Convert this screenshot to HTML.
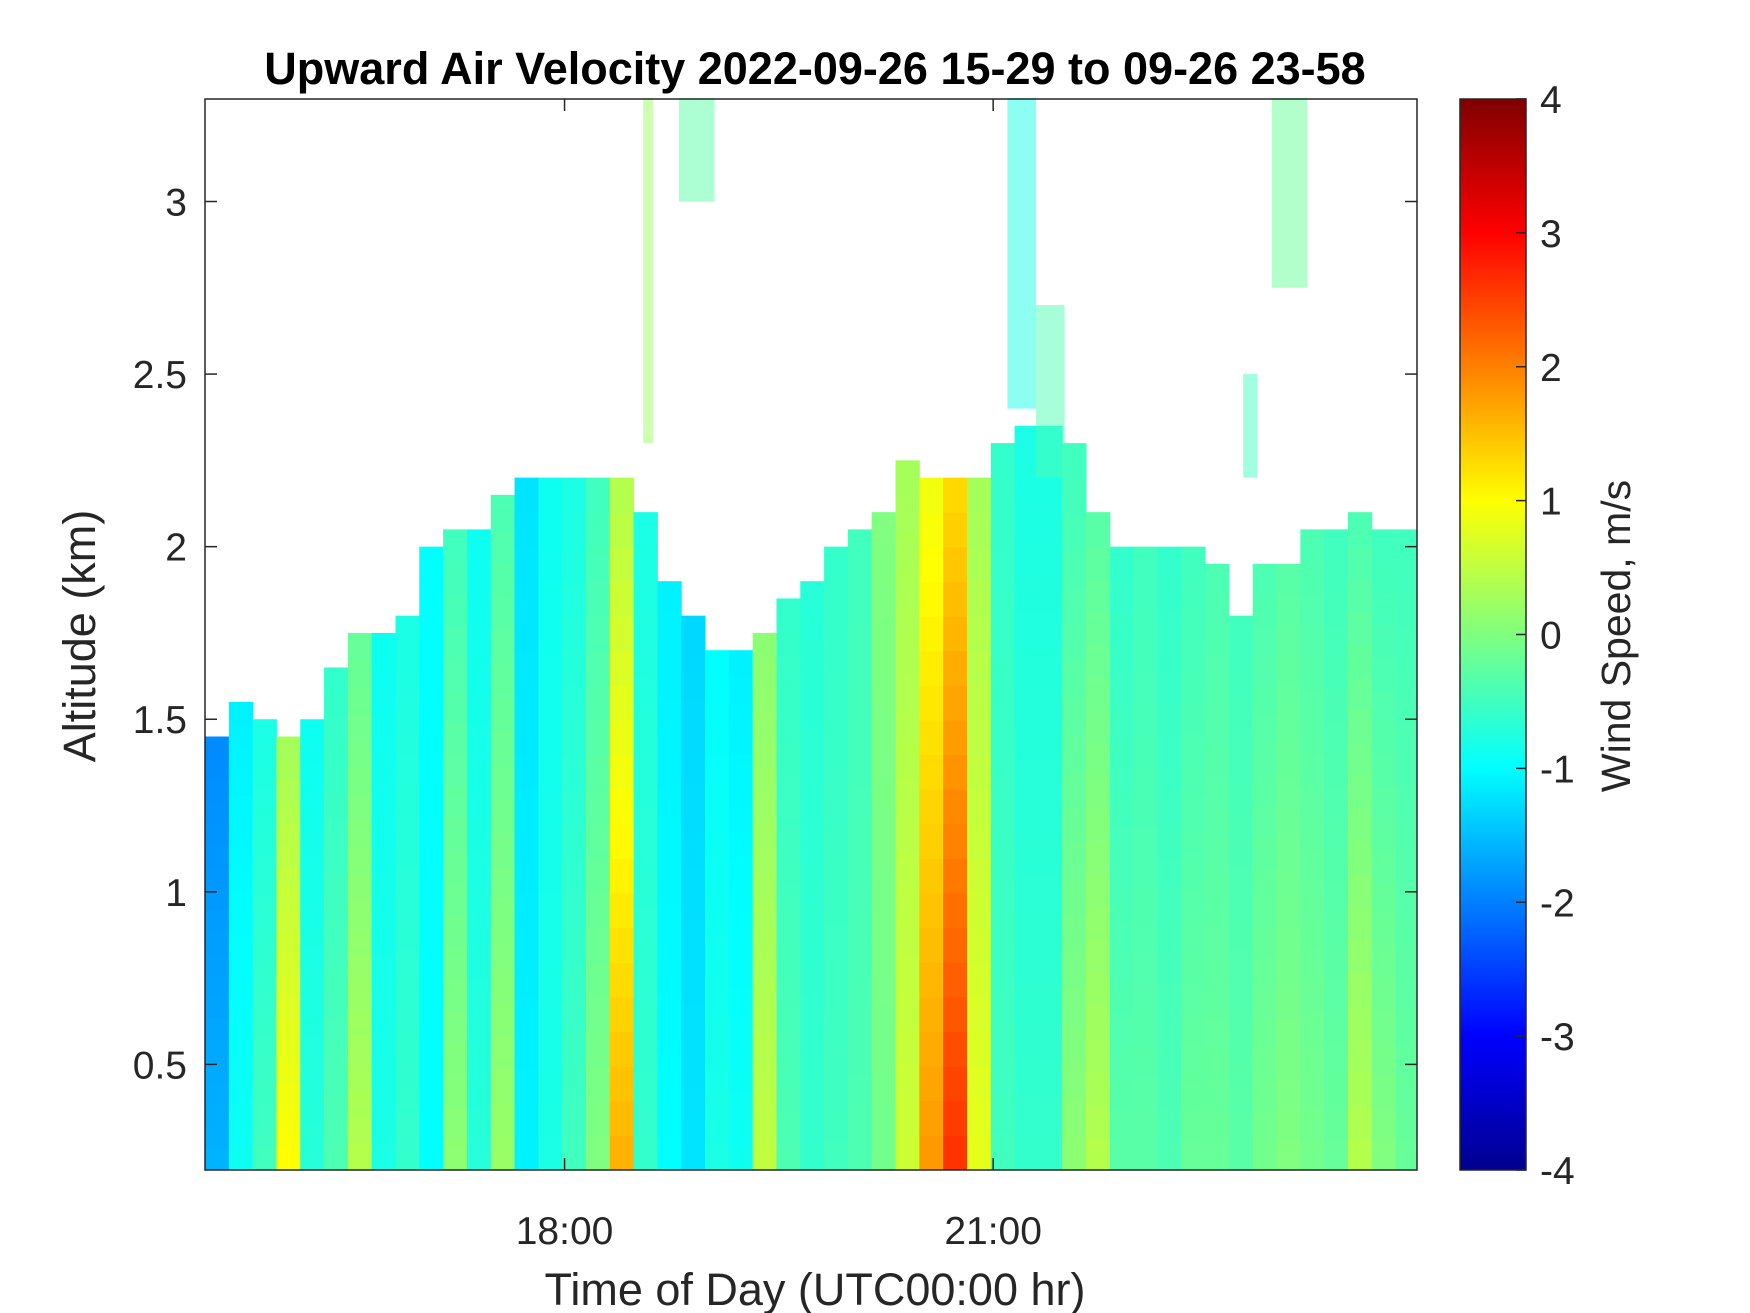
<!DOCTYPE html>
<html><head><meta charset="utf-8"><style>
html,body{margin:0;padding:0;background:#fff}
svg{display:block;font-family:"Liberation Sans",Arial,sans-serif}
</style></head><body>
<svg id="chart" width="1750" height="1313" viewBox="0 0 1750 1313" xmlns="http://www.w3.org/2000/svg">
<text x="815" y="84" font-size="45" font-weight="bold" text-anchor="middle">Upward Air Velocity 2022-09-26 15-29 to 09-26 23-58</text>
<g id="heat"></g>
<g id="plumes"></g>
<rect x="205" y="99" width="1212" height="1071" fill="none" stroke="#262626" stroke-width="1.5"/>
<g id="axes"></g>
<defs><linearGradient id="jet" x1="0" y1="1" x2="0" y2="0">
<stop offset="0" stop-color="#00008f"/><stop offset="0.125" stop-color="#0000ff"/><stop offset="0.375" stop-color="#00ffff"/><stop offset="0.625" stop-color="#ffff00"/><stop offset="0.875" stop-color="#ff0000"/><stop offset="1" stop-color="#800000"/></linearGradient></defs>
<rect x="1460" y="99" width="66" height="1071" fill="url(#jet)" stroke="#262626" stroke-width="1.5"/>
<g id="cbar"></g>
<text transform="translate(95,636) rotate(-90)" font-size="45" text-anchor="middle" fill="#262626">Altitude (km)</text>
<text x="815" y="1305" font-size="45" text-anchor="middle" fill="#262626">Time of Day (UTC00:00 hr)</text>
<text transform="translate(1630,636) rotate(-90)" font-size="41" text-anchor="middle" fill="#262626">Wind Speed, m/s</text>
</svg>
<script>
// data
const colStartHr = 15.4833; // 15:29
const colStepHr = 1/6;      // 10-minute bins
const topKm = [1.45,1.55,1.5,1.45,1.5,1.65,1.75,1.75,1.8,2.0,2.05,2.05,2.15,2.2,2.2,2.2,2.2,2.2,2.1,1.9,1.8,1.7,1.7,1.75,1.85,1.9,2.0,2.05,2.1,2.25,2.2,2.2,2.2,2.3,2.35,2.35,2.3,2.1,2.0,2.0,2.0,2.0,1.95,1.8,1.95,1.95,2.05,2.05,2.1,2.05,2.05];
const vLow  = [-1.6,-0.9,-0.5,1.0,-0.7,-0.4,0.4,-0.8,-0.6,-1.0,0.1,-0.7,0.2,-1.1,-0.8,-0.5,0.0,1.6,-0.6,-1.0,-1.2,-0.8,-0.9,0.5,-0.4,-0.6,-0.5,-0.4,-0.1,0.6,1.8,2.6,0.8,-0.5,-0.6,-0.6,0.1,0.4,-0.3,-0.3,-0.4,-0.2,-0.2,-0.3,-0.1,0.0,-0.1,-0.2,0.4,0.0,-0.2];
const vHigh = [-1.9,-1.1,-0.8,0.3,-0.9,-0.6,-0.2,-0.9,-0.8,-1.0,-0.5,-0.9,-0.4,-1.2,-0.9,-0.8,-0.5,0.4,-0.8,-1.1,-1.3,-1.0,-1.1,0.1,-0.6,-0.7,-0.6,-0.5,0.0,0.3,0.9,1.3,0.3,-0.6,-0.8,-0.8,-0.5,-0.3,-0.6,-0.5,-0.6,-0.5,-0.4,-0.5,-0.4,-0.3,-0.4,-0.5,-0.4,-0.5,-0.5];
const plumeStart = [18.55, 18.8, 21.1, 21.3, 22.95, 22.75];
const plumeEnd   = [18.62, 19.05, 21.3, 21.5, 23.2, 22.85];
const plumeBottom= [2.3, 3.0, 2.4, 2.2, 2.75, 2.2];
const plumeTop   = [3.3, 3.3, 3.3, 2.7, 3.3, 2.5];
const plumeV     = [0.2, -0.3, -0.8, -0.4, -0.2, -0.5];
const yTicks = [0.5,1,1.5,2,2.5,3];
const yTickLabels = ["0.5","1","1.5","2","2.5","3"];
const xTicks = [18, 21];
const xTickLabels = ["18:00","21:00"];
const cTicks = [-4,-3,-2,-1,0,1,2,3,4];

const X0=205,X1=1417,Y0=99,Y1=1170;
const tMin=15.4833,tMax=23.9667,kMin=0.194,kMax=3.297;
const xs=t=>X0+(t-tMin)/(tMax-tMin)*(X1-X0);
const ys=k=>Y1-(k-kMin)/(kMax-kMin)*(Y1-Y0);
const cy=v=>Y1-(v+4)/8*(Y1-Y0);
function jet(v){let t=Math.max(0,Math.min(1,(v+4)/8));
 const f=(a)=>Math.max(0,Math.min(1,1.5-Math.abs(4*t-a)));
 const r=f(3),g=f(2),b=f(1);return `rgb(${Math.round(r*255)},${Math.round(g*255)},${Math.round(b*255)})`;}
const NS="http://www.w3.org/2000/svg";
const heat=document.getElementById('heat');
const rows=20;
for(let i=0;i<topKm.length;i++){
 const t0=colStartHr+i*colStepHr, t1=Math.min(tMax,t0+colStepHr);
 for(let r=0;r<rows;r++){
  const k0=kMin+(topKm[i]-kMin)*r/rows, k1=kMin+(topKm[i]-kMin)*(r+1)/rows;
  const v=vLow[i]+(vHigh[i]-vLow[i])*r/(rows-1);
  const el=document.createElementNS(NS,'rect');
  
  
  el.setAttribute('x',xs(t0));el.setAttribute('width',xs(t1)-xs(t0)+0.5);
  el.setAttribute('y',ys(k1));el.setAttribute('height',ys(k0)-ys(k1)+0.5);
  el.setAttribute('fill',jet(v));heat.appendChild(el);
 }
}
const pl=document.getElementById('plumes');
for(let i=0;i<plumeStart.length;i++){
 const el=document.createElementNS(NS,'rect');
 
 
 el.setAttribute('x',xs(plumeStart[i]));el.setAttribute('width',xs(plumeEnd[i])-xs(plumeStart[i]));
 el.setAttribute('y',ys(plumeTop[i]));el.setAttribute('height',ys(plumeBottom[i])-ys(plumeTop[i]));
 el.setAttribute('fill',jet(plumeV[i]));el.setAttribute('opacity','0.5');pl.appendChild(el);
}
const ax=document.getElementById('axes');
function line(g,x1,y1,x2,y2,name){const l=document.createElementNS(NS,'line');
 
 
 l.setAttribute('x1',x1);l.setAttribute('y1',y1);l.setAttribute('x2',x2);l.setAttribute('y2',y2);
 l.setAttribute('stroke','#262626');l.setAttribute('stroke-width','1.5');g.appendChild(l);}
function text(g,x,y,s,anchor,name,size){const t=document.createElementNS(NS,'text');
 
 
 t.setAttribute('x',x);t.setAttribute('y',y);t.setAttribute('font-size',size||39);
 t.setAttribute('text-anchor',anchor);t.setAttribute('fill','#262626');t.textContent=s;g.appendChild(t);}
yTicks.forEach((k,i)=>{const y=ys(k);line(ax,X0,y,X0+12,y,'y-tick');line(ax,X1-12,y,X1,y,'y-tick-right');
 text(ax,X0-18,y+14,yTickLabels[i],'end','y-tick-label');});
xTicks.forEach((t,i)=>{const x=xs(t);line(ax,x,Y1,x,Y1-12,'x-tick');line(ax,x,Y0,x,Y0+12,'x-tick-top');
 text(ax,x,Y1+74,xTickLabels[i],'middle','x-tick-label');});
const cb=document.getElementById('cbar');
cTicks.forEach(v=>{const y=cy(v);line(cb,1526-10,y,1526,y,'colorbar-tick');
 text(cb,1540,y+14,String(v),'start','colorbar-tick-label');});
</script>
</body></html>
